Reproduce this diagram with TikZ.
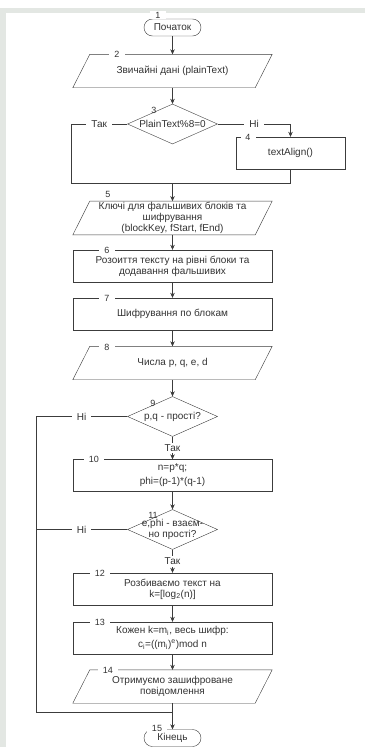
\documentclass[tikz,border=0pt]{standalone}
\usepackage{fontspec}
\setmainfont{Liberation Sans}
\usetikzlibrary{shapes.geometric,arrows.meta}

\definecolor{ln}{RGB}{60,60,60}
\definecolor{txt}{RGB}{50,50,50}
\definecolor{band}{RGB}{227,231,227}

\tikzset{
 base/.style={font=\fontsize{10}{11}\selectfont, text=txt, align=center, inner sep=1pt},
 proc/.style={base, draw=ln, rectangle, minimum width=199pt, minimum height=32pt},
 io/.style={base, rectangle, minimum width=182pt, minimum height=33pt},
 term/.style={base, draw=ln, rectangle, rounded corners=8.5pt, minimum width=57pt, minimum height=17pt},
 decide/.style={draw=ln, diamond, minimum width=90pt, minimum height=40pt, inner sep=0pt},
 num/.style={font=\fontsize{9}{10}\selectfont, text=txt, fill=white, inner ysep=1pt, inner xsep=5pt},
 dnum/.style={num, fill=none, inner xsep=1pt},
 lab/.style={base, fill=white, inner ysep=2pt, inner xsep=5pt},
 flow/.style={draw=ln, -{Stealth[length=5pt,width=4.5pt]}},
 conn/.style={draw=ln}
}

\begin{document}
\begin{tikzpicture}[x=1pt,y=-1pt]

\useasboundingbox (0,0) rectangle (365,747);
\fill[band] (0,8) rectangle (365,13);
\fill[band] (0,8) rectangle (6,747);

\node[term] (t1) at (172.5,27.5) {Початок};
\node[io] (p2) at (172.5,71) {Звичайні дані (plainText)};
\node[decide, label={[base]center:PlainText\%8=0}] (d3) at (172.5,124) {};
\node[proc, minimum width=109pt] (b4) at (290.5,153) {textAlign()};
\node[io] (p5) at (172.5,218) {Ключі для фальшивих блоків та\\шифрування\\(blockKey, fStart, fEnd)};
\node[proc] (b6) at (172.5,266) {Розоиття тексту на рівні блоки та\\додавання фальшивих};
\node[proc] (b7) at (172.5,314) {Шифрування по блокам};
\node[io] (p8) at (172.5,363) {Числа p, q, e, d};
\node[decide, label={[base]center:{p,q - прості?}}] (d9) at (172.5,416.5) {};
\node[proc] (b10) at (172.5,475.5) {n=p*q;\\[3pt]phi=(p-1)*(q-1)};
\node[decide, label={[base]center:{e,phi - взаєм-\\но прості?}}] (d11) at (172.5,529.5) {};
\node[proc] (b12) at (172.5,589) {Розбиваємо текст на\\k=[log\textsubscript{2}(n)]};
\node[proc] (b13) at (172.5,638) {Кожен k=m\textsubscript{i}, весь шифр:\\[3pt]c\textsubscript{i}=((m\textsubscript{i})\textsuperscript{e})mod n};
\node[io] (p14) at (172.5,686.5) {Отримуємо зашифроване\\повідомлення};
\node[term] (t15) at (172.5,738) {Кінець};

% slanted outlines of the data blocks
\foreach \p in {p2,p5,p8,p14}
 \draw[ln] ([xshift=8.5pt]\p.north west) -- ([xshift=8.5pt]\p.north east)
  -- ([xshift=-8.5pt]\p.south east) -- ([xshift=-8.5pt]\p.south west) -- cycle;

\coordinate (c3) at (71,124);
\coordinate (m5) at (172.5,183);
\coordinate (l9) at (36,416.5);
\coordinate (l15) at (36,712);
\coordinate (j15) at (172.5,712);

\draw[flow] (t1) -- (p2);
\draw[flow] (p2) -- (d3);
\draw[conn] (d3.west) -- node[lab]{Так} (c3) |- (m5);
\draw[flow] (d3.east) -- node[lab]{Ні} (d3.east -| b4) -- (b4);
\draw[conn] (b4) |- (m5);
\draw[flow] (m5) -- (p5);
\draw[flow] (p5) -- (b6);
\draw[flow] (b6) -- (b7);
\draw[flow] (b7) -- (p8);
\draw[flow] (p8) -- (d9);
\draw[flow] (d9) -- node[lab, inner xsep=2pt]{Так} (b10);
\draw[conn] (d9.west) -- node[lab]{Ні} (l9) -- (l15) -- (j15);
\draw[flow] (b10) -- (d11);
\draw[flow] (d11) -- node[lab, inner xsep=2pt]{Так} (b12);
\draw[conn] (d11.west) -- node[lab]{Ні} (d11.west -| l9);
\draw[flow] (b12) -- (b13);
\draw[flow] (b13) -- (p14);
\draw[flow] (p14) -- (t15);

% block numbers
\foreach \n/\x/\y in {1/158/15, 2/117/54, 4/248/137, 5/108/194, 6/107/250, 7/107/298,
  8/107/347, 10/94/459, 12/100/573, 13/100/622, 14/108/670, 15/157/728}
 \node[num] (n\n) at (\x,\y) {\n};
\foreach \n/\x/\y in {3/154/110, 9/153/403, 11/153/515}
 \node[dnum] (n\n) at (\x,\y) {\n};

\end{tikzpicture}
\end{document}
